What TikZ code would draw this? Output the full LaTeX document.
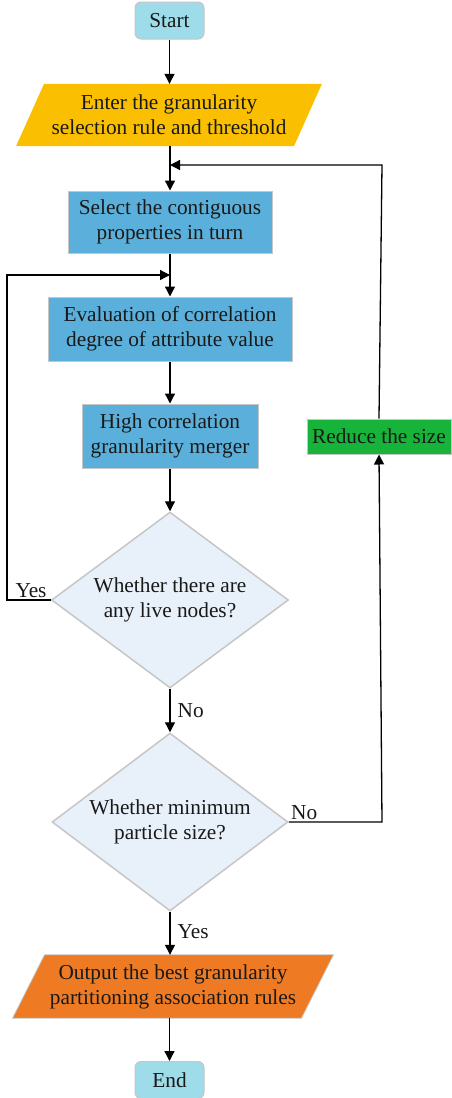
\documentclass[tikz,border=0pt]{standalone}
\usepackage{fontspec}
\setmainfont{Liberation Serif}
\usetikzlibrary{shapes.geometric,arrows.meta,backgrounds}
\definecolor{termc}{HTML}{9DDCE8}
\definecolor{inc}{HTML}{FABF00}
\definecolor{procc}{HTML}{5BB0DB}
\definecolor{greenc}{HTML}{17B33A}
\definecolor{outc}{HTML}{EE7B24}
\definecolor{decc}{HTML}{E8F0FA}
\definecolor{edgec}{HTML}{C6C6C6}
\tikzset{
  txt/.style={font=\fontsize{21.3}{25}\selectfont, align=center, text=black!90, inner sep=0pt},
  term/.style={txt, rectangle, rounded corners=6pt, fill=termc, draw=edgec, line width=1pt, minimum width=69pt, minimum height=37pt},
  proc/.style={txt, rectangle, fill=procc, draw=edgec, line width=1pt},
  dec/.style={txt, diamond, aspect=1.34, fill=decc, draw=edgec, line width=1.5pt},
  iobox/.style={txt, rectangle},
  conn/.style={line width=1.3pt, black},
  arr/.style={conn, -{Triangle[length=10pt,width=10pt]}},
  lab/.style={font=\fontsize{21.3}{25}\selectfont, text=black!90, inner sep=0pt}
}
\begin{document}
\begin{tikzpicture}[x=1pt,y=-1pt]
\useasboundingbox (0,0) rectangle (452,1098);
\node[term] (start) at (169.5,20.5) {Start};
\node[iobox, minimum width=277.5pt, minimum height=62pt] (in) at (169,115) {Enter the granularity\\selection rule and threshold};
\node[proc, minimum width=204pt, minimum height=62pt] (sel) at (170,222) {Select the contiguous\\properties in turn};
\node[proc, minimum width=244pt, minimum height=64pt] (eval) at (170,329) {Evaluation of correlation\\degree of attribute value};
\node[proc, minimum width=176pt, minimum height=64pt] (high) at (170,436) {High correlation\\granularity merger};
\node[dec, minimum width=237pt, minimum height=176pt] (d1) at (170,600) {Whether there are\\any live nodes?};
\node[dec, minimum width=236pt, minimum height=178pt] (d2) at (170,822) {Whether minimum\\particle size?};
\node[proc, fill=greenc, minimum width=144pt, minimum height=35pt] (red) at (379,436.5) {Reduce the size};
\node[iobox, minimum width=288.5pt, minimum height=63pt] (out) at (173,986.5) {Output the best granularity\\partitioning association rules};
\node[term] (end) at (169.5,1080) {End};
\begin{scope}[on background layer]
\fill[inc] ([xshift=14pt]in.north west) -- ([xshift=14pt]in.north east) -- ([xshift=-14pt]in.south east) -- ([xshift=-14pt]in.south west) -- cycle;
\fill[outc] ([xshift=16pt]out.north west) -- ([xshift=16pt]out.north east) -- ([xshift=-16pt]out.south east) -- ([xshift=-16pt]out.south west) -- cycle;
\draw[edgec, line width=0.8pt] ([xshift=16pt]out.north west) -- ([xshift=16pt]out.north east) -- ([xshift=-16pt]out.south east) -- ([xshift=-16pt]out.south west) -- cycle;
\end{scope}
\coordinate (j1) at (170,165);
\coordinate (j2) at (170,275);
\coordinate (lx) at (7,0);
\coordinate (rx) at (382,0);
\draw[arr] (start.south) -- (start.south |- in.north);
\draw[arr] (in.south -| sel.north) -- (sel.north);
\draw[arr] (sel.south) -- (eval.north);
\draw[arr] (eval.south) -- (high.north);
\draw[arr] (high.south) -- (d1.north);
\draw[arr] (d1.south) -- node[lab, right=7pt, pos=0.5] {No} (d2.north);
\draw[arr] (d2.south) -- node[lab, right=7pt, pos=0.45] {Yes} (d2.south |- out.north);
\draw[arr] (out.south -| end.north) -- (end.north);
\draw[arr] (d1.west) -- (lx |- d1.west) -- (lx |- j2) -- (j2);
\draw[arr] (d2.east) -- (rx |- d2.east) -- (red.south);
\draw[arr] (red.north) -- (rx |- j1) -- (j1);
\node[lab, anchor=south] at (31,598) {Yes};
\node[lab, anchor=south west] at (291,820) {No};
\end{tikzpicture}
\end{document}
